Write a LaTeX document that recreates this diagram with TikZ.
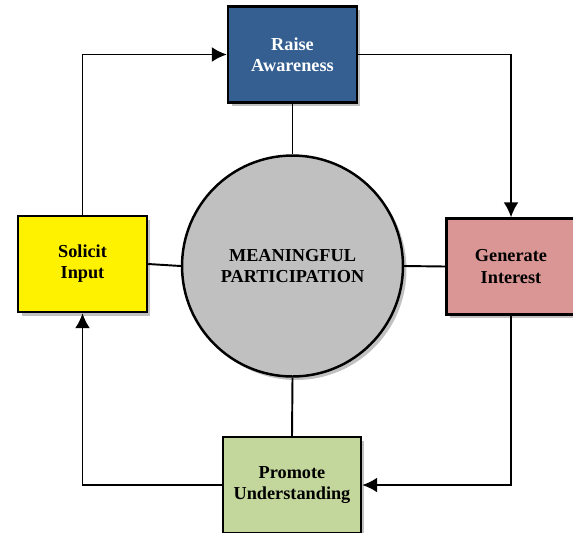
\documentclass[tikz,border=0pt]{standalone}
\usepackage{fontspec}
\setmainfont{Liberation Serif}
\usetikzlibrary{arrows.meta}
\usetikzlibrary{shadows}
\definecolor{raiseblue}{RGB}{53,95,145}
\definecolor{interestpink}{RGB}{217,150,148}
\definecolor{promotegreen}{RGB}{195,214,155}
\definecolor{coregrey}{RGB}{192,192,192}

\begin{document}
\begin{tikzpicture}[x=0.02cm,y=-0.02cm,
  stage/.style={rectangle,draw=black,line width=1.4pt,minimum width=2.58cm,minimum height=1.92cm,
    align=center,font=\fontsize{10.4}{12}\selectfont\bfseries,
    drop shadow={shadow xshift=0.07cm,shadow yshift=-0.07cm,opacity=0.35,fill=black!70}},
  link/.style={draw=black,line width=1.1pt},
  flow/.style={link,-{Latex[length=0.3cm,width=0.3cm]}}]
\useasboundingbox (0,0) rectangle (573,532);
\clip (0,0) rectangle (573,532);
\node[stage,fill=raiseblue,text=white] (raise) at (292.5,54.5) {Raise\\Awareness};
\node[stage,fill=interestpink] (generate) at (511,266.5) {Generate\\Interest};
\node[stage,fill=promotegreen,minimum width=2.76cm] (promote) at (292,485) {Promote\\Understanding};
\node[stage,fill=yellow] (solicit) at (82.5,264) {Solicit\\Input};
\node[circle,draw=black,line width=1.4pt,fill=coregrey,minimum size=4.42cm,inner sep=0pt,align=center,
  font=\fontsize{10.4}{12}\selectfont\bfseries,
  drop shadow={shadow xshift=0.07cm,shadow yshift=-0.07cm,opacity=0.35,fill=black!70}] (core) at (292.5,266) {MEANINGFUL\\PARTICIPATION};

\draw[link] (raise.south) -- (core.north);
\draw[link] (generate.west) -- (core.east);
\draw[link] (promote.north) -- (core.south);
\draw[link] (solicit.east) -- (core.west);

\draw[flow] (solicit.north) |- (raise.west);
\draw[flow] (raise.east) -| (generate.north);
\draw[flow] (generate.south) |- (promote.east);
\draw[flow] (promote.west) -| (solicit.south);
\end{tikzpicture}
\end{document}
